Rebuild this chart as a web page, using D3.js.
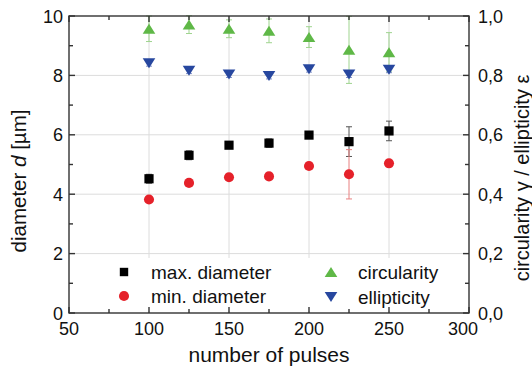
<!DOCTYPE html>
<html>
<head>
<meta charset="UTF-8" />
<script src="https://d3js.org/d3.v7.min.js"></script>
<style>
  body { margin: 0; background: white; }
  svg text { font-family: "Liberation Sans", Arial, sans-serif; fill: #111; }
</style>
</head>
<body>
<svg width="532" height="376"></svg>
<script>
// data
var pulses = [100, 125, 150, 175, 200, 225, 250];
var maxDiameter = [4.52, 5.31, 5.65, 5.72, 5.99, 5.77, 6.13];
var maxDiameterErr = [0.15, 0.15, 0.1, 0.14, 0.08, 0.5, 0.33];
var minDiameter = [3.82, 4.38, 4.57, 4.60, 4.95, 4.67, 5.04];
var minDiameterErr = [0.04, 0.04, 0.04, 0.04, 0.04, 0.83, 0.04];
var circularity = [0.957, 0.971, 0.957, 0.950, 0.929, 0.886, 0.878];
var circularityErr = [0.043, 0.03, 0.03, 0.04, 0.035, 0.113, 0.066];
var ellipticity = [0.841, 0.816, 0.803, 0.798, 0.821, 0.803, 0.819];
var ellipticityErr = [0.01, 0.01, 0.01, 0.01, 0.01, 0.01, 0.01];
var xTicks = [50, 100, 150, 200, 250, 300];
var yTicks = [0, 2, 4, 6, 8, 10];
var y2Ticks = [0, 0.2, 0.4, 0.6, 0.8, 1.0];

var svg = d3.select("svg");
var m = {left: 69, top: 16, right: 63, bottom: 63};
var width = 532 - m.left - m.right,
    height = 376 - m.top - m.bottom;

var x = d3.scaleLinear().domain([50, 300]).range([m.left, m.left + width]);
var y = d3.scaleLinear().domain([0, 10]).range([m.top + height, m.top]);
var y2 = d3.scaleLinear().domain([0, 1]).range([m.top + height, m.top]);

// grid
var grid = svg.append("g").attr("stroke", "#dcdcdc").attr("stroke-width", 1);
grid.selectAll(".gx").data(xTicks.slice(1, -1)).enter().append("line")
  .attr("x1", d => x(d)).attr("x2", d => x(d))
  .attr("y1", m.top).attr("y2", m.top + height);
grid.selectAll(".gy").data(yTicks.slice(1, -1)).enter().append("line")
  .attr("y1", d => y(d)).attr("y2", d => y(d))
  .attr("x1", m.left).attr("x2", m.left + width);

// series
var series = [
  {name: "max. diameter", vals: maxDiameter, err: maxDiameterErr, sc: y, color: "#000000", errColor: "#555", shape: "square"},
  {name: "min. diameter", vals: minDiameter, err: minDiameterErr, sc: y, color: "#e5212a", errColor: "#e88080", shape: "circle"},
  {name: "circularity", vals: circularity, err: circularityErr, sc: y2, color: "#5fb847", errColor: "#9fd48f", shape: "up"},
  {name: "ellipticity", vals: ellipticity, err: ellipticityErr, sc: y2, color: "#27479f", errColor: "#8090c8", shape: "down"}
];

function markerPath(shape) {
  if (shape == "square") return "M-4.6,-4.6H4.6V4.6H-4.6Z";
  if (shape == "circle") return d3.symbol(d3.symbolCircle, 80)();
  if (shape == "up") return "M0,-5L6.3,5H-6.3Z";
  return "M0,5L6.3,-5H-6.3Z";
}

series.forEach(function (s) {
  var pts = pulses.map((p, i) => ({x: p, v: s.vals[i], e: s.err[i]}));
  var eg = svg.append("g").attr("stroke", s.errColor).attr("stroke-width", 1);
  eg.selectAll("line.v").data(pts).enter().append("line")
    .attr("x1", d => x(d.x)).attr("x2", d => x(d.x))
    .attr("y1", d => s.sc(d.v - d.e)).attr("y2", d => s.sc(d.v + d.e));
  [-1, 1].forEach(function (k) {
    eg.selectAll("line.c" + k).data(pts).enter().append("line")
      .attr("x1", d => x(d.x) - 3).attr("x2", d => x(d.x) + 3)
      .attr("y1", d => s.sc(d.v + k * d.e)).attr("y2", d => s.sc(d.v + k * d.e));
  });
});
series.forEach(function (s) {
  svg.append("g").selectAll("path").data(pulses).enter().append("path")
    .attr("d", markerPath(s.shape))
    .attr("fill", s.color)
    .attr("transform", (p, i) => "translate(" + x(p) + "," + s.sc(s.vals[i]) + ")");
});

// legend
var lg = svg.append("g");
lg.append("rect").attr("x", 104).attr("y", 258).attr("width", 364).attr("height", 53).attr("fill", "white");
var legPos = [[124, 272], [124, 296], [331, 272], [331, 297]];
series.forEach(function (s, i) {
  lg.append("path").attr("d", s.shape == "square" ? "M-4.2,-4.2H4.2V4.2H-4.2Z" : markerPath(s.shape))
    .attr("fill", s.color)
    .attr("transform", "translate(" + legPos[i][0] + "," + legPos[i][1] + ")");
  lg.append("text").attr("x", legPos[i][0] + 27).attr("y", legPos[i][1] + 7)
    .attr("font-size", 19).text(s.name);
});

// frame + ticks
var ax = svg.append("g").attr("stroke", "#333").attr("stroke-width", 1.4).attr("fill", "none");
ax.append("rect").attr("x", m.left).attr("y", m.top).attr("width", width).attr("height", height);
var xMinor = d3.range(50, 301, 25), yMinor = d3.range(0, 10.01, 1);
xMinor.forEach(function (t) {
  var len = t % 50 == 0 ? 6 : 4;
  ax.append("line").attr("x1", x(t)).attr("x2", x(t)).attr("y1", m.top + height).attr("y2", m.top + height - len);
  ax.append("line").attr("x1", x(t)).attr("x2", x(t)).attr("y1", m.top).attr("y2", m.top + len);
});
yMinor.forEach(function (t) {
  var len = t % 2 == 0 ? 6 : 4;
  ax.append("line").attr("y1", y(t)).attr("y2", y(t)).attr("x1", m.left).attr("x2", m.left + len);
  ax.append("line").attr("y1", y(t)).attr("y2", y(t)).attr("x1", m.left + width).attr("x2", m.left + width - len);
});

// tick labels
svg.selectAll(".xl").data(xTicks).enter().append("text")
  .attr("x", d => x(d) - (d == 300 ? 6 : 0)).attr("y", m.top + height + 22)
  .attr("text-anchor", "middle").attr("font-size", 18).text(d => d);
svg.selectAll(".yl").data(yTicks).enter().append("text")
  .attr("x", m.left - 6).attr("y", d => y(d) + 6.5)
  .attr("text-anchor", "end").attr("font-size", 18).text(d => d);
svg.selectAll(".y2l").data(y2Ticks).enter().append("text")
  .attr("x", m.left + width + 9).attr("y", d => y2(d) + 6.5)
  .attr("font-size", 18).text(d => d.toFixed(1).replace(".", ","));

// axis titles
svg.append("text").attr("x", x(175)).attr("y", 362).attr("text-anchor", "middle")
  .attr("font-size", 21).text("number of pulses");
var lt = svg.append("text").attr("transform", "translate(26,181) rotate(-90)")
  .attr("text-anchor", "middle").attr("font-size", 20.5);
lt.append("tspan").text("diameter ");
lt.append("tspan").attr("font-style", "italic").text("d");
lt.append("tspan").text(" [\u00b5m]");
svg.append("text").attr("transform", "translate(529,178) rotate(-90)")
  .attr("text-anchor", "middle").attr("font-size", 20)
  .text("circularity \u03b3 / ellipticity \u03b5");
</script>
</body>
</html>
